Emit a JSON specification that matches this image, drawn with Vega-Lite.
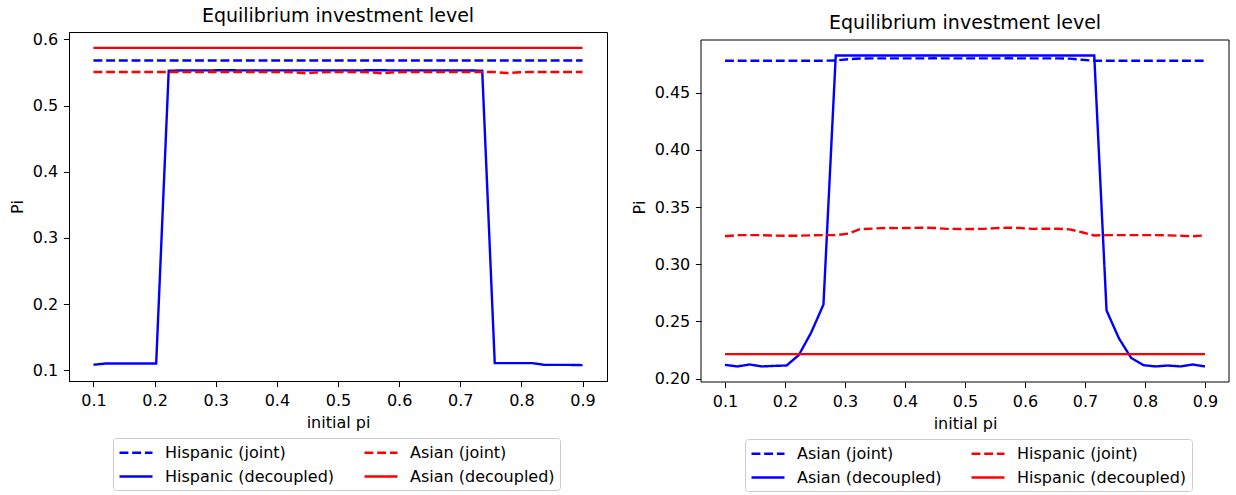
{
"$schema": "https://vega.github.io/schema/vega-lite/v6.json",
"padding": {"left": 9, "top": 6, "right": 4, "bottom": 0},
"spacing": 23,
"bounds": "full",
"config": {
  "font": "DejaVu Sans",
  "view": {"stroke": "black", "strokeWidth": 1},
  "axis": {"domainColor": "black", "tickColor": "black", "labelColor": "black", "titleColor": "black", "labelFontSize": 16, "titleFontSize": 16, "titleFontWeight": "normal", "tickSize": 5.6, "labelPadding": 5.6, "titlePadding": 6.4, "grid": false, "domainWidth": 1, "tickWidth": 1, "labelFont": "DejaVu Sans", "titleFont": "DejaVu Sans"},
  "title": {"fontSize": 19, "fontWeight": "normal", "font": "DejaVu Sans", "color": "black", "anchor": "middle", "baseline": "bottom"},
  "legend": {"orient": "none", "columns": 2, "direction": "horizontal", "symbolType": "M-1,0H3.125", "symbolSize": 256, "symbolStrokeWidth": 2.4, "labelFontSize": 16, "labelFont": "DejaVu Sans", "labelColor": "black", "labelOffset": 28, "labelLimit": 400, "columnPadding": 24, "rowPadding": 6, "padding": 5, "fillColor": "white", "strokeColor": "#cccccc", "cornerRadius": 3, "gridAlign": "each"}
},
"resolve": {"scale": {"x": "independent", "y": "independent", "color": "independent", "strokeDash": "independent"}, "legend": {"color": "independent", "strokeDash": "independent"}},
"datasets": {
  "left": [
    {"x":0.1,"series":"Hispanic (decoupled)","y":0.1085},{"x":0.1205,"series":"Hispanic (decoupled)","y":0.1105},{"x":0.141,"series":"Hispanic (decoupled)","y":0.1105},{"x":0.1615,"series":"Hispanic (decoupled)","y":0.1105},{"x":0.1821,"series":"Hispanic (decoupled)","y":0.1105},{"x":0.2026,"series":"Hispanic (decoupled)","y":0.1105},{"x":0.2231,"series":"Hispanic (decoupled)","y":0.5525},{"x":0.2436,"series":"Hispanic (decoupled)","y":0.553},{"x":0.2641,"series":"Hispanic (decoupled)","y":0.553},{"x":0.2846,"series":"Hispanic (decoupled)","y":0.553},{"x":0.3051,"series":"Hispanic (decoupled)","y":0.5532},{"x":0.3256,"series":"Hispanic (decoupled)","y":0.5532},{"x":0.3462,"series":"Hispanic (decoupled)","y":0.553},{"x":0.3667,"series":"Hispanic (decoupled)","y":0.553},{"x":0.3872,"series":"Hispanic (decoupled)","y":0.553},{"x":0.4077,"series":"Hispanic (decoupled)","y":0.553},{"x":0.4282,"series":"Hispanic (decoupled)","y":0.553},{"x":0.4487,"series":"Hispanic (decoupled)","y":0.553},{"x":0.4692,"series":"Hispanic (decoupled)","y":0.553},{"x":0.4897,"series":"Hispanic (decoupled)","y":0.553},{"x":0.5103,"series":"Hispanic (decoupled)","y":0.553},{"x":0.5308,"series":"Hispanic (decoupled)","y":0.553},{"x":0.5513,"series":"Hispanic (decoupled)","y":0.5532},{"x":0.5718,"series":"Hispanic (decoupled)","y":0.5532},{"x":0.5923,"series":"Hispanic (decoupled)","y":0.553},{"x":0.6128,"series":"Hispanic (decoupled)","y":0.553},{"x":0.6333,"series":"Hispanic (decoupled)","y":0.553},{"x":0.6538,"series":"Hispanic (decoupled)","y":0.553},{"x":0.6744,"series":"Hispanic (decoupled)","y":0.553},{"x":0.6949,"series":"Hispanic (decoupled)","y":0.553},{"x":0.7154,"series":"Hispanic (decoupled)","y":0.553},{"x":0.7359,"series":"Hispanic (decoupled)","y":0.5525},{"x":0.7564,"series":"Hispanic (decoupled)","y":0.111},{"x":0.7769,"series":"Hispanic (decoupled)","y":0.111},{"x":0.7974,"series":"Hispanic (decoupled)","y":0.111},{"x":0.8179,"series":"Hispanic (decoupled)","y":0.111},{"x":0.8385,"series":"Hispanic (decoupled)","y":0.1083},{"x":0.859,"series":"Hispanic (decoupled)","y":0.1083},{"x":0.8795,"series":"Hispanic (decoupled)","y":0.1083},{"x":0.9,"series":"Hispanic (decoupled)","y":0.108},
    {"x":0.1,"series":"Hispanic (joint)","y":0.568},{"x":0.9,"series":"Hispanic (joint)","y":0.568},
    {"x":0.1,"series":"Asian (decoupled)","y":0.587},{"x":0.9,"series":"Asian (decoupled)","y":0.587},
    {"x":0.1,"series":"Asian (joint)","y":0.5505},{"x":0.1205,"series":"Asian (joint)","y":0.5505},{"x":0.141,"series":"Asian (joint)","y":0.5505},{"x":0.1615,"series":"Asian (joint)","y":0.5505},{"x":0.1821,"series":"Asian (joint)","y":0.5505},{"x":0.2026,"series":"Asian (joint)","y":0.5505},{"x":0.2231,"series":"Asian (joint)","y":0.5505},{"x":0.2436,"series":"Asian (joint)","y":0.5505},{"x":0.2641,"series":"Asian (joint)","y":0.5505},{"x":0.2846,"series":"Asian (joint)","y":0.5505},{"x":0.3051,"series":"Asian (joint)","y":0.5505},{"x":0.3256,"series":"Asian (joint)","y":0.5505},{"x":0.3462,"series":"Asian (joint)","y":0.5505},{"x":0.3667,"series":"Asian (joint)","y":0.5505},{"x":0.3872,"series":"Asian (joint)","y":0.5505},{"x":0.4077,"series":"Asian (joint)","y":0.5505},{"x":0.4282,"series":"Asian (joint)","y":0.5502},{"x":0.4487,"series":"Asian (joint)","y":0.5485},{"x":0.4692,"series":"Asian (joint)","y":0.5502},{"x":0.4897,"series":"Asian (joint)","y":0.5505},{"x":0.5103,"series":"Asian (joint)","y":0.5505},{"x":0.5308,"series":"Asian (joint)","y":0.5505},{"x":0.5513,"series":"Asian (joint)","y":0.5502},{"x":0.5718,"series":"Asian (joint)","y":0.5487},{"x":0.5923,"series":"Asian (joint)","y":0.5502},{"x":0.6128,"series":"Asian (joint)","y":0.5505},{"x":0.6333,"series":"Asian (joint)","y":0.5505},{"x":0.6538,"series":"Asian (joint)","y":0.5505},{"x":0.6744,"series":"Asian (joint)","y":0.5505},{"x":0.6949,"series":"Asian (joint)","y":0.5505},{"x":0.7154,"series":"Asian (joint)","y":0.5505},{"x":0.7359,"series":"Asian (joint)","y":0.5505},{"x":0.7564,"series":"Asian (joint)","y":0.5505},{"x":0.7769,"series":"Asian (joint)","y":0.549},{"x":0.7974,"series":"Asian (joint)","y":0.5503},{"x":0.8179,"series":"Asian (joint)","y":0.5505},{"x":0.8385,"series":"Asian (joint)","y":0.5505},{"x":0.859,"series":"Asian (joint)","y":0.5505},{"x":0.8795,"series":"Asian (joint)","y":0.5505},{"x":0.9,"series":"Asian (joint)","y":0.5505}
  ],
  "right": [
    {"x":0.1,"group":"Asian (decoupled)","y":0.2121},{"x":0.1205,"group":"Asian (decoupled)","y":0.2107},{"x":0.141,"group":"Asian (decoupled)","y":0.2124},{"x":0.1615,"group":"Asian (decoupled)","y":0.2107},{"x":0.1821,"group":"Asian (decoupled)","y":0.2112},{"x":0.2026,"group":"Asian (decoupled)","y":0.2115},{"x":0.2231,"group":"Asian (decoupled)","y":0.2207},{"x":0.2436,"group":"Asian (decoupled)","y":0.2403},{"x":0.2641,"group":"Asian (decoupled)","y":0.2648},{"x":0.2846,"group":"Asian (decoupled)","y":0.4825},{"x":0.3051,"group":"Asian (decoupled)","y":0.4825},{"x":0.3256,"group":"Asian (decoupled)","y":0.4825},{"x":0.3462,"group":"Asian (decoupled)","y":0.4825},{"x":0.3667,"group":"Asian (decoupled)","y":0.4825},{"x":0.3872,"group":"Asian (decoupled)","y":0.4825},{"x":0.4077,"group":"Asian (decoupled)","y":0.4825},{"x":0.4282,"group":"Asian (decoupled)","y":0.4825},{"x":0.4487,"group":"Asian (decoupled)","y":0.4825},{"x":0.4692,"group":"Asian (decoupled)","y":0.4825},{"x":0.4897,"group":"Asian (decoupled)","y":0.4825},{"x":0.5103,"group":"Asian (decoupled)","y":0.4825},{"x":0.5308,"group":"Asian (decoupled)","y":0.4825},{"x":0.5513,"group":"Asian (decoupled)","y":0.4825},{"x":0.5718,"group":"Asian (decoupled)","y":0.4825},{"x":0.5923,"group":"Asian (decoupled)","y":0.4825},{"x":0.6128,"group":"Asian (decoupled)","y":0.4825},{"x":0.6333,"group":"Asian (decoupled)","y":0.4825},{"x":0.6538,"group":"Asian (decoupled)","y":0.4825},{"x":0.6744,"group":"Asian (decoupled)","y":0.4825},{"x":0.6949,"group":"Asian (decoupled)","y":0.4825},{"x":0.7154,"group":"Asian (decoupled)","y":0.4825},{"x":0.7359,"group":"Asian (decoupled)","y":0.2597},{"x":0.7564,"group":"Asian (decoupled)","y":0.2354},{"x":0.7769,"group":"Asian (decoupled)","y":0.2182},{"x":0.7974,"group":"Asian (decoupled)","y":0.2118},{"x":0.8179,"group":"Asian (decoupled)","y":0.2107},{"x":0.8385,"group":"Asian (decoupled)","y":0.2115},{"x":0.859,"group":"Asian (decoupled)","y":0.2107},{"x":0.8795,"group":"Asian (decoupled)","y":0.2124},{"x":0.9,"group":"Asian (decoupled)","y":0.2107},
    {"x":0.1,"group":"Hispanic (decoupled)","y":0.2215},{"x":0.9,"group":"Hispanic (decoupled)","y":0.2215},
    {"x":0.1,"group":"Asian (joint)","y":0.478},{"x":0.1205,"group":"Asian (joint)","y":0.478},{"x":0.141,"group":"Asian (joint)","y":0.478},{"x":0.1615,"group":"Asian (joint)","y":0.478},{"x":0.1821,"group":"Asian (joint)","y":0.478},{"x":0.2026,"group":"Asian (joint)","y":0.478},{"x":0.2231,"group":"Asian (joint)","y":0.478},{"x":0.2436,"group":"Asian (joint)","y":0.478},{"x":0.2641,"group":"Asian (joint)","y":0.478},{"x":0.2846,"group":"Asian (joint)","y":0.4782},{"x":0.3051,"group":"Asian (joint)","y":0.4793},{"x":0.3256,"group":"Asian (joint)","y":0.4799},{"x":0.3462,"group":"Asian (joint)","y":0.48},{"x":0.3667,"group":"Asian (joint)","y":0.48},{"x":0.3872,"group":"Asian (joint)","y":0.48},{"x":0.4077,"group":"Asian (joint)","y":0.48},{"x":0.4282,"group":"Asian (joint)","y":0.48},{"x":0.4487,"group":"Asian (joint)","y":0.4801},{"x":0.4692,"group":"Asian (joint)","y":0.48},{"x":0.4897,"group":"Asian (joint)","y":0.48},{"x":0.5103,"group":"Asian (joint)","y":0.48},{"x":0.5308,"group":"Asian (joint)","y":0.48},{"x":0.5513,"group":"Asian (joint)","y":0.48},{"x":0.5718,"group":"Asian (joint)","y":0.4801},{"x":0.5923,"group":"Asian (joint)","y":0.48},{"x":0.6128,"group":"Asian (joint)","y":0.48},{"x":0.6333,"group":"Asian (joint)","y":0.48},{"x":0.6538,"group":"Asian (joint)","y":0.48},{"x":0.6744,"group":"Asian (joint)","y":0.4798},{"x":0.6949,"group":"Asian (joint)","y":0.4788},{"x":0.7154,"group":"Asian (joint)","y":0.478},{"x":0.7359,"group":"Asian (joint)","y":0.478},{"x":0.7564,"group":"Asian (joint)","y":0.478},{"x":0.7769,"group":"Asian (joint)","y":0.478},{"x":0.7974,"group":"Asian (joint)","y":0.478},{"x":0.8179,"group":"Asian (joint)","y":0.478},{"x":0.8385,"group":"Asian (joint)","y":0.478},{"x":0.859,"group":"Asian (joint)","y":0.478},{"x":0.8795,"group":"Asian (joint)","y":0.478},{"x":0.9,"group":"Asian (joint)","y":0.478},
    {"x":0.1,"group":"Hispanic (joint)","y":0.3245},{"x":0.1205,"group":"Hispanic (joint)","y":0.3255},{"x":0.141,"group":"Hispanic (joint)","y":0.3255},{"x":0.1615,"group":"Hispanic (joint)","y":0.3255},{"x":0.1821,"group":"Hispanic (joint)","y":0.3251},{"x":0.2026,"group":"Hispanic (joint)","y":0.325},{"x":0.2231,"group":"Hispanic (joint)","y":0.325},{"x":0.2436,"group":"Hispanic (joint)","y":0.3253},{"x":0.2641,"group":"Hispanic (joint)","y":0.3255},{"x":0.2846,"group":"Hispanic (joint)","y":0.3255},{"x":0.3051,"group":"Hispanic (joint)","y":0.3268},{"x":0.3256,"group":"Hispanic (joint)","y":0.3308},{"x":0.3462,"group":"Hispanic (joint)","y":0.3312},{"x":0.3667,"group":"Hispanic (joint)","y":0.3318},{"x":0.3872,"group":"Hispanic (joint)","y":0.3316},{"x":0.4077,"group":"Hispanic (joint)","y":0.3318},{"x":0.4282,"group":"Hispanic (joint)","y":0.332},{"x":0.4487,"group":"Hispanic (joint)","y":0.3318},{"x":0.4692,"group":"Hispanic (joint)","y":0.331},{"x":0.4897,"group":"Hispanic (joint)","y":0.3309},{"x":0.5103,"group":"Hispanic (joint)","y":0.3309},{"x":0.5308,"group":"Hispanic (joint)","y":0.331},{"x":0.5513,"group":"Hispanic (joint)","y":0.3316},{"x":0.5718,"group":"Hispanic (joint)","y":0.332},{"x":0.5923,"group":"Hispanic (joint)","y":0.3317},{"x":0.6128,"group":"Hispanic (joint)","y":0.331},{"x":0.6333,"group":"Hispanic (joint)","y":0.3311},{"x":0.6538,"group":"Hispanic (joint)","y":0.3311},{"x":0.6744,"group":"Hispanic (joint)","y":0.3305},{"x":0.6949,"group":"Hispanic (joint)","y":0.328},{"x":0.7154,"group":"Hispanic (joint)","y":0.3252},{"x":0.7359,"group":"Hispanic (joint)","y":0.3255},{"x":0.7564,"group":"Hispanic (joint)","y":0.3255},{"x":0.7769,"group":"Hispanic (joint)","y":0.3255},{"x":0.7974,"group":"Hispanic (joint)","y":0.3255},{"x":0.8179,"group":"Hispanic (joint)","y":0.3255},{"x":0.8385,"group":"Hispanic (joint)","y":0.3253},{"x":0.859,"group":"Hispanic (joint)","y":0.325},{"x":0.8795,"group":"Hispanic (joint)","y":0.3245},{"x":0.9,"group":"Hispanic (joint)","y":0.3253}
  ]
},
"hconcat": [
  {
    "width": 538, "height": 349,
    "title": {"text": "Equilibrium investment level", "offset": 5},
    "data": {"name": "left"},
    "mark": {"type": "line", "strokeWidth": 2.4},
    "encoding": {
      "x": {"field": "x", "type": "quantitative", "scale": {"domain": [0.06, 0.94], "nice": false, "zero": false}, "axis": {"title": "initial pi", "values": [0.1,0.2,0.3,0.4,0.5,0.6,0.7,0.8,0.9], "format": ".1f", "labelFlush": false}},
      "y": {"field": "y", "type": "quantitative", "scale": {"domain": [0.084, 0.611], "nice": false, "zero": false}, "axis": {"title": "Pi", "values": [0.1,0.2,0.3,0.4,0.5,0.6], "format": ".1f", "labelFlush": false}},
      "color": {"field": "series", "type": "nominal", "scale": {"domain": ["Hispanic (joint)", "Asian (joint)", "Hispanic (decoupled)", "Asian (decoupled)"], "range": ["#0000ff", "#ff0000", "#0000ff", "#ff0000"]}, "legend": {"title": null, "legendX": 44, "legendY": 406}},
      "strokeDash": {"field": "series", "type": "nominal", "scale": {"domain": ["Hispanic (joint)", "Asian (joint)", "Hispanic (decoupled)", "Asian (decoupled)"], "range": [[8.9, 3.8], [8.9, 3.8], [1, 0], [1, 0]]}, "legend": {"title": null, "legendX": 44, "legendY": 406}}
    }
  },
  {
    "width": 528, "height": 350,
    "view": {"stroke": null},
    "title": {"text": "Equilibrium investment level", "offset": -1},
    "layer": [
      {
        "data": {"values": [{}]},
        "mark": {"type": "rect", "fill": "white", "fillOpacity": 0, "stroke": "black", "strokeWidth": 1},
        "encoding": {
          "x": {"datum": 0.06, "type": "quantitative"},
          "x2": {"datum": 0.94},
          "y": {"datum": 0.1971, "type": "quantitative"},
          "y2": {"datum": 0.4961}
        }
      },
      {
        "data": {"name": "right"},
        "mark": {"type": "line", "strokeWidth": 2.4},
        "encoding": {
          "x": {"field": "x", "type": "quantitative", "scale": {"domain": [0.06, 0.94], "nice": false, "zero": false}, "axis": {"title": "initial pi", "values": [0.1,0.2,0.3,0.4,0.5,0.6,0.7,0.8,0.9], "format": ".1f", "labelFlush": false, "domain": false}},
          "y": {"field": "y", "type": "quantitative", "scale": {"domain": [0.1971, 0.5031], "nice": false, "zero": false}, "axis": {"title": "Pi", "values": [0.2,0.25,0.3,0.35,0.4,0.45], "format": ".2f", "labelFlush": false, "domain": false}},
          "color": {"field": "group", "type": "nominal", "scale": {"domain": ["Asian (joint)", "Hispanic (joint)", "Asian (decoupled)", "Hispanic (decoupled)"], "range": ["#0000ff", "#ff0000", "#0000ff", "#ff0000"]}, "legend": {"title": null, "legendX": 44, "legendY": 407}},
          "strokeDash": {"field": "group", "type": "nominal", "scale": {"domain": ["Asian (joint)", "Hispanic (joint)", "Asian (decoupled)", "Hispanic (decoupled)"], "range": [[8.9, 3.8], [8.9, 3.8], [1, 0], [1, 0]]}, "legend": {"title": null, "legendX": 44, "legendY": 407}}
        }
      }
    ]
  }
]
}
